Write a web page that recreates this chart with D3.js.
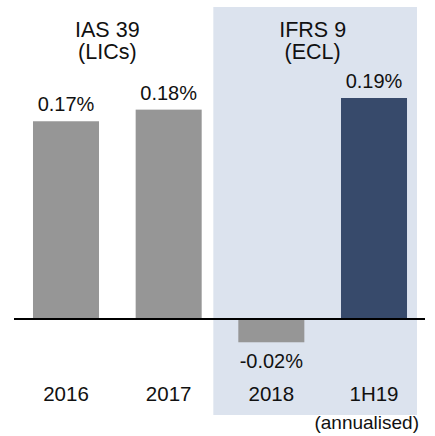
<!DOCTYPE html>
<html>
<head>
<meta charset="utf-8">
<script src="https://cdn.jsdelivr.net/npm/d3@7"></script>
<style>
  body { margin: 0; background: #fff; }
  text { font-family: "Liberation Sans", Arial, sans-serif; fill: #111; }
</style>
</head>
<body>
<svg id="chart"></svg>
<script>
// chart data
var categories = ["2016", "2017", "2018", "1H19"];
var values = [0.17, 0.18, -0.02, 0.19];
var valueLabels = ["0.17%", "0.18%", "-0.02%", "0.19%"];
var barColors = ["#969696", "#969696", "#969696", "#374a6b"];
var groupLabels = [["IAS 39", "(LICs)"], ["IFRS 9", "(ECL)"]];
var groupFrom = [0, 2];   // first category index of each group
var groupTo = [1, 3];     // last category index of each group
var footnote = "(annualised)";

var width = 435,
    height = 436;

var svg = d3.select("#chart")
    .attr("width", width)
    .attr("height", height);

var x = d3.scaleBand()
    .domain(categories)
    .range([14, 426])
    .paddingInner(0.357)
    .paddingOuter(0.185);

var y = d3.scaleLinear()
    .domain([0, 0.19])
    .range([319, 98]);

var bw = x.bandwidth();

// shaded IFRS 9 panel
var panelLeft = x(categories[groupFrom[1]]) - 25,
    panelRight = x(categories[groupTo[1]]) + bw + 10;
svg.append("rect")
    .attr("x", panelLeft)
    .attr("y", 7)
    .attr("width", panelRight - panelLeft)
    .attr("height", 408)
    .attr("fill", "#dce3ee");

// bars
svg.selectAll(".bar")
    .data(values)
  .enter().append("rect")
    .attr("class", "bar")
    .attr("x", function(d, i) { return x(categories[i]); })
    .attr("y", function(d) { return d >= 0 ? y(d) : y(0); })
    .attr("width", bw)
    .attr("height", function(d) { return Math.abs(y(d) - y(0)); })
    .attr("fill", function(d, i) { return barColors[i]; });

// zero line
svg.append("line")
    .attr("x1", 14)
    .attr("x2", 425)
    .attr("y1", y(0))
    .attr("y2", y(0))
    .attr("stroke", "#000")
    .attr("stroke-width", 1.8);

// value labels
svg.selectAll(".val")
    .data(values)
  .enter().append("text")
    .attr("class", "val")
    .attr("x", function(d, i) { return x(categories[i]) + bw / 2; })
    .attr("y", function(d) { return d >= 0 ? y(d) - 10 : y(d) + 26; })
    .attr("text-anchor", "middle")
    .style("font-size", "20px")
    .text(function(d, i) { return valueLabels[i]; });

// category labels
svg.selectAll(".cat")
    .data(categories)
  .enter().append("text")
    .attr("class", "cat")
    .attr("x", function(d) { return x(d) + bw / 2; })
    .attr("y", 401)
    .attr("text-anchor", "middle")
    .style("font-size", "20.5px")
    .text(function(d) { return d; });

// group headings
groupLabels.forEach(function(lines, g) {
  var cx = (x(categories[groupFrom[g]]) + x(categories[groupTo[g]]) + bw) / 2 - 10;
  lines.forEach(function(t, k) {
    svg.append("text")
      .attr("x", cx)
      .attr("y", 37 + k * 22)
      .attr("text-anchor", "middle")
      .style("font-size", "21.5px")
      .text(t);
  });
});

svg.append("text")
    .attr("x", 419)
    .attr("y", 429)
    .attr("text-anchor", "end")
    .style("font-size", "19px")
    .text(footnote);
</script>
</body>
</html>
